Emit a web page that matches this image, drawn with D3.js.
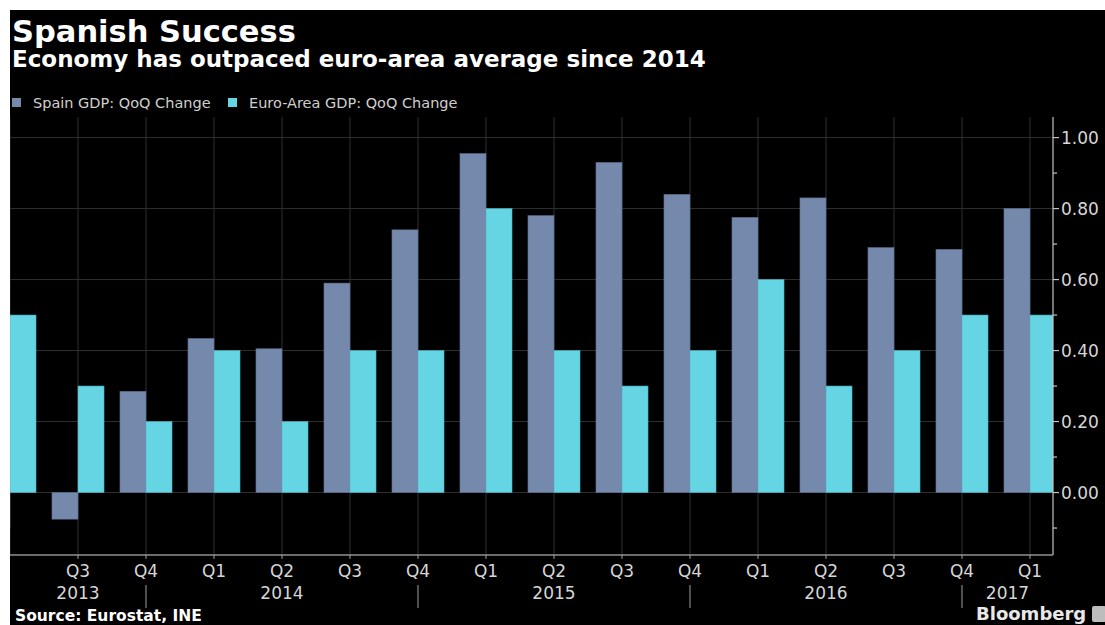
<!DOCTYPE html>
<html>
<head>
<meta charset="utf-8">
<script src="https://cdn.jsdelivr.net/npm/d3@7/dist/d3.min.js"></script>
<style>
  html, body { margin: 0; padding: 0; background: #ffffff; }
  svg { display: block; }
  text { font-family: "DejaVu Sans", sans-serif; }
</style>
</head>
<body>
<svg id="chart" width="1105" height="625"></svg>
<script>
// ---- Data ----
const quarters = ["Q2","Q3","Q4","Q1","Q2","Q3","Q4","Q1","Q2","Q3","Q4","Q1","Q2","Q3","Q4","Q1"];
const years    = [2013,2013,2013,2014,2014,2014,2014,2015,2015,2015,2015,2016,2016,2016,2016,2017];
const spainGDP = [-0.10,-0.075,0.285,0.434,0.405,0.59,0.74,0.955,0.78,0.93,0.84,0.775,0.83,0.69,0.685,0.80];
const euroGDP  = [0.50,0.30,0.20,0.40,0.20,0.40,0.40,0.80,0.40,0.30,0.40,0.60,0.30,0.40,0.50,0.50];
const seriesNames = ["Spain GDP: QoQ Change", "Euro-Area GDP: QoQ Change"];
const seriesColors = ["#7489ab", "#65d5e4"];
const yTickValues = [-0.1,0,0.1,0.2,0.3,0.4,0.5,0.6,0.7,0.8,0.9,1.0];
const yLabelValues = [0,0.2,0.4,0.6,0.8,1.0];

// ---- Layout ----
const svg = d3.select("#chart");
const W = 1105, H = 625;
const plot = { left: 10, right: 1053, top: 117, bottom: 555 };

svg.append("rect").attr("x", 10).attr("y", 10).attr("width", W - 10).attr("height", H - 10).attr("fill", "#000");

const keys = quarters.map((q, i) => i);
const step = 68;
const x = d3.scalePoint().domain(keys).range([plot.left, plot.left + step * (keys.length - 1)]);
const barW = step * (1 - 0.235) / 2;
const y = d3.scaleLinear().domain([-0.176, 1.058]).range([plot.bottom, plot.top]);

// clip
svg.append("defs").append("clipPath").attr("id", "plotclip")
  .append("rect").attr("x", plot.left).attr("y", plot.top)
  .attr("width", plot.right - plot.left).attr("height", plot.bottom - plot.top);

// gridlines
const grid = svg.append("g").attr("clip-path", "url(#plotclip)");
grid.selectAll("line.h").data(yLabelValues).join("line")
  .attr("x1", plot.left).attr("x2", plot.right)
  .attr("y1", d => y(d)).attr("y2", d => y(d))
  .attr("stroke", "#303030").attr("stroke-width", 1);
grid.selectAll("line.v").data(keys).join("line")
  .attr("x1", d => x(d)).attr("x2", d => x(d))
  .attr("y1", plot.top).attr("y2", plot.bottom)
  .attr("stroke", "#303030").attr("stroke-width", 1);

// bars
const bars = svg.append("g").attr("clip-path", "url(#plotclip)");
const barData = [];
keys.forEach(i => {
  barData.push({ i, s: 0, v: spainGDP[i] });
  barData.push({ i, s: 1, v: euroGDP[i] });
});
bars.selectAll("rect").data(barData).join("rect")
  .attr("x", d => d.s === 0 ? x(d.i) - barW : x(d.i))
  .attr("width", barW)
  .attr("y", d => y(Math.max(0, d.v)))
  .attr("height", d => Math.abs(y(d.v) - y(0)))
  .attr("fill", d => seriesColors[d.s])
  .attr("stroke", d => d.s === 0 ? "#5d7092" : "#4fb3c4")
  .attr("stroke-width", 0.6);

// right axis
const ya = svg.append("g").attr("transform", `translate(${plot.right},0)`);
ya.append("line").attr("x1", 0).attr("x2", 0).attr("y1", plot.top).attr("y2", plot.bottom)
  .attr("stroke", "#c4c4c4").attr("stroke-width", 1.2);
ya.selectAll("line.t").data(yTickValues).join("line")
  .attr("x1", 0).attr("x2", d => yLabelValues.some(v => Math.abs(v - d) < 1e-9) ? 6 : 4)
  .attr("y1", d => y(d)).attr("y2", d => y(d))
  .attr("stroke", "#c4c4c4").attr("stroke-width", 1.2);
ya.selectAll("text").data(yLabelValues).join("text")
  .attr("x", 8).attr("y", d => y(d)).attr("dy", "0.36em")
  .attr("fill", "#d6d6d6").attr("font-size", 17)
  .text(d3.format(".2f"));

// bottom axis
const xa = svg.append("g");
xa.append("line").attr("x1", plot.left).attr("x2", plot.right)
  .attr("y1", plot.bottom).attr("y2", plot.bottom)
  .attr("stroke", "#909090").attr("stroke-width", 1.5);
xa.selectAll("line.t").data(keys.filter(i => x(i) > plot.left + 5)).join("line")
  .attr("x1", d => x(d)).attr("x2", d => x(d))
  .attr("y1", plot.bottom).attr("y2", plot.bottom + 4)
  .attr("stroke", "#a0a0a0").attr("stroke-width", 1);
xa.selectAll("text.q").data(keys.filter(i => x(i) > plot.left + 20)).join("text")
  .attr("x", d => x(d)).attr("y", 577)
  .attr("text-anchor", "middle").attr("fill", "#d6d6d6").attr("font-size", 17)
  .text(d => quarters[d]);

// year labels and separators
const qnum = q => +q.slice(1);
const yearList = Array.from(new Set(years));
yearList.forEach(yr => {
  const idx = keys.filter(i => years[i] === yr);
  const first = idx[0], last = idx[idx.length - 1];
  const left = Math.max(plot.left, x(first) - step * (qnum(quarters[first]) - 1) - step);
  const rightRaw = x(last) + step * (4 - qnum(quarters[last]));
  const right = Math.min(plot.right, rightRaw);
  xa.append("text").attr("x", (left + right) / 2).attr("y", 599)
    .attr("text-anchor", "middle").attr("fill", "#d6d6d6").attr("font-size", 17)
    .text(yr);
  if (rightRaw < plot.right) {
    xa.append("line").attr("x1", rightRaw).attr("x2", rightRaw)
      .attr("y1", 585).attr("y2", 608)
      .attr("stroke", "#a0a0a0").attr("stroke-width", 1);
  }
});

// titles
svg.append("text").attr("x", 12).attr("y", 42)
  .attr("fill", "#fff").attr("font-weight", "bold").attr("font-size", 30.5)
  .text("Spanish Success");
svg.append("text").attr("x", 12).attr("y", 67)
  .attr("fill", "#fff").attr("font-weight", "bold").attr("font-size", 23)
  .text("Economy has outpaced euro-area average since 2014");

// legend
const legX = [12, 228];
seriesNames.forEach((n, i) => {
  svg.append("rect").attr("x", legX[i]).attr("y", 98).attr("width", 9).attr("height", 9)
    .attr("fill", seriesColors[i]);
  svg.append("text").attr("x", legX[i] + 21).attr("y", 108)
    .attr("fill", "#cfcfcf").attr("font-size", 14.5).text(n);
});

// footer
svg.append("text").attr("x", 15).attr("y", 621)
  .attr("fill", "#fff").attr("font-weight", "bold").attr("font-size", 15.5)
  .text("Source: Eurostat, INE");
svg.append("text").attr("x", 976).attr("y", 620)
  .attr("fill", "#e8e8e8").attr("font-weight", "bold").attr("font-size", 18)
  .text("Bloomberg");
svg.append("rect").attr("x", 1092).attr("y", 606).attr("width", 14).attr("height", 16)
  .attr("rx", 2).attr("fill", "#bdbdbd");
</script>
</body>
</html>
